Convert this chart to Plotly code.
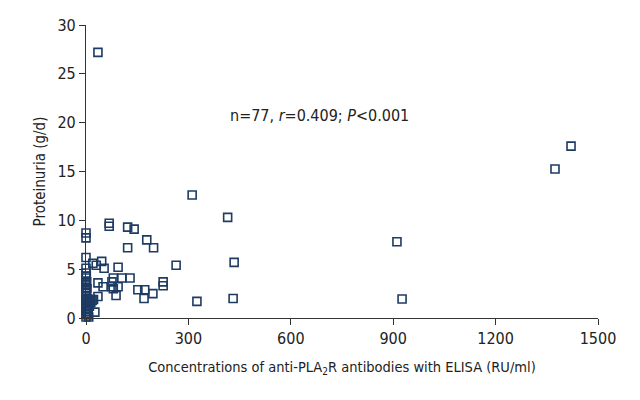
import plotly.graph_objects as go

# Concentrations of anti-PLA2R antibodies (RU/ml)
conc = [35, 68, 68, 122, 141, 122, 178, 198, 311, 415, 264, 434, 226, 226, 325, 431,
        911, 926, 1374, 1421, 20, 30, 46, 53, 94, 80, 105, 129, 76, 35, 76, 50, 94, 80,
        88, 35, 152, 172, 170, 196, 26,
        0, 0, 0, 0, 0, 0, 0,
        0, 0, 0, 0, 0, 0, 0, 0, 0, 0, 0, 0,
        3, 3, 3, 3, 6, 6, 6, 6, 10, 10, 14, 14, 18, 22, 1, 2, 8]
# Proteinuria (g/d)
prot = [27.2, 9.7, 9.4, 9.3, 9.1, 7.2, 8.0, 7.2, 12.6, 10.3, 5.4, 5.7, 3.7, 3.3, 1.7, 2.0,
        7.8, 1.95, 15.25, 17.6, 5.6, 5.4, 5.8, 5.1, 5.2, 4.1, 4.1, 4.1, 3.7, 3.6, 3.2, 3.2, 3.2, 3.0,
        2.3, 2.2, 2.9, 2.9, 2.0, 2.5, 0.6,
        8.7, 8.2, 6.2, 5.1, 4.6, 4.1, 3.6,
        3.4, 3.1, 2.8, 2.5, 2.2, 1.9, 1.6, 1.3, 1.0, 0.7, 0.4, 0.1,
        3.0, 2.0, 1.2, 0.5, 1.9, 1.5, 0.9, 0.3, 1.8, 1.2, 1.9, 1.6, 1.8, 1.9, 4.3, 3.7, 0.1]

x_ticks = [0, 300, 600, 900, 1200, 1500]
y_ticks = [0, 5, 10, 15, 20, 25, 30]

FONT = "DejaVu Sans Condensed, Liberation Sans Narrow, sans-serif"
NAVY = "#1d3b63"

fig = go.Figure()
fig.add_trace(go.Scatter(
    x=conc, y=prot, mode="markers", cliponaxis=False,
    marker=dict(symbol="square-open", size=8, color=NAVY, line=dict(width=1.6, color=NAVY)),
    showlegend=False,
))

axis_common = dict(
    showgrid=False, zeroline=False, showline=True, linecolor="#333333", linewidth=1.2,
    ticks="outside", ticklen=6, tickwidth=1.2, tickcolor="#333333",
    tickfont=dict(family=FONT, size=16, color="#222222"),
    automargin=False,
)

fig.update_xaxes(range=[0, 1500], tickvals=x_ticks,
                 title=dict(text="Concentrations of anti-PLA<sub>2</sub>R antibodies with ELISA (RU/ml)",
                            font=dict(family=FONT, size=14.5, color="#222222"), standoff=14),
                 **axis_common)
fig.update_yaxes(range=[0, 30], tickvals=y_ticks,
                 title=dict(text="Proteinuria (g/d)", font=dict(family=FONT, size=15, color="#222222"),
                            standoff=8),
                 **axis_common)

fig.add_annotation(
    x=0.457, y=0.73, xref="paper", yref="paper", showarrow=False,
    text="n=77, <i>r</i>=0.409; <i>P</i><0.001",
    font=dict(family=FONT, size=16, color="#222222"),
)

# The page body has an 8px margin, so the figure is sized to fill the rest of the window.
fig.update_layout(
    width=632, height=392,
    margin=dict(l=78, r=42, t=17, b=82),
    plot_bgcolor="white", paper_bgcolor="white",
)

fig.write_html("out.html")
